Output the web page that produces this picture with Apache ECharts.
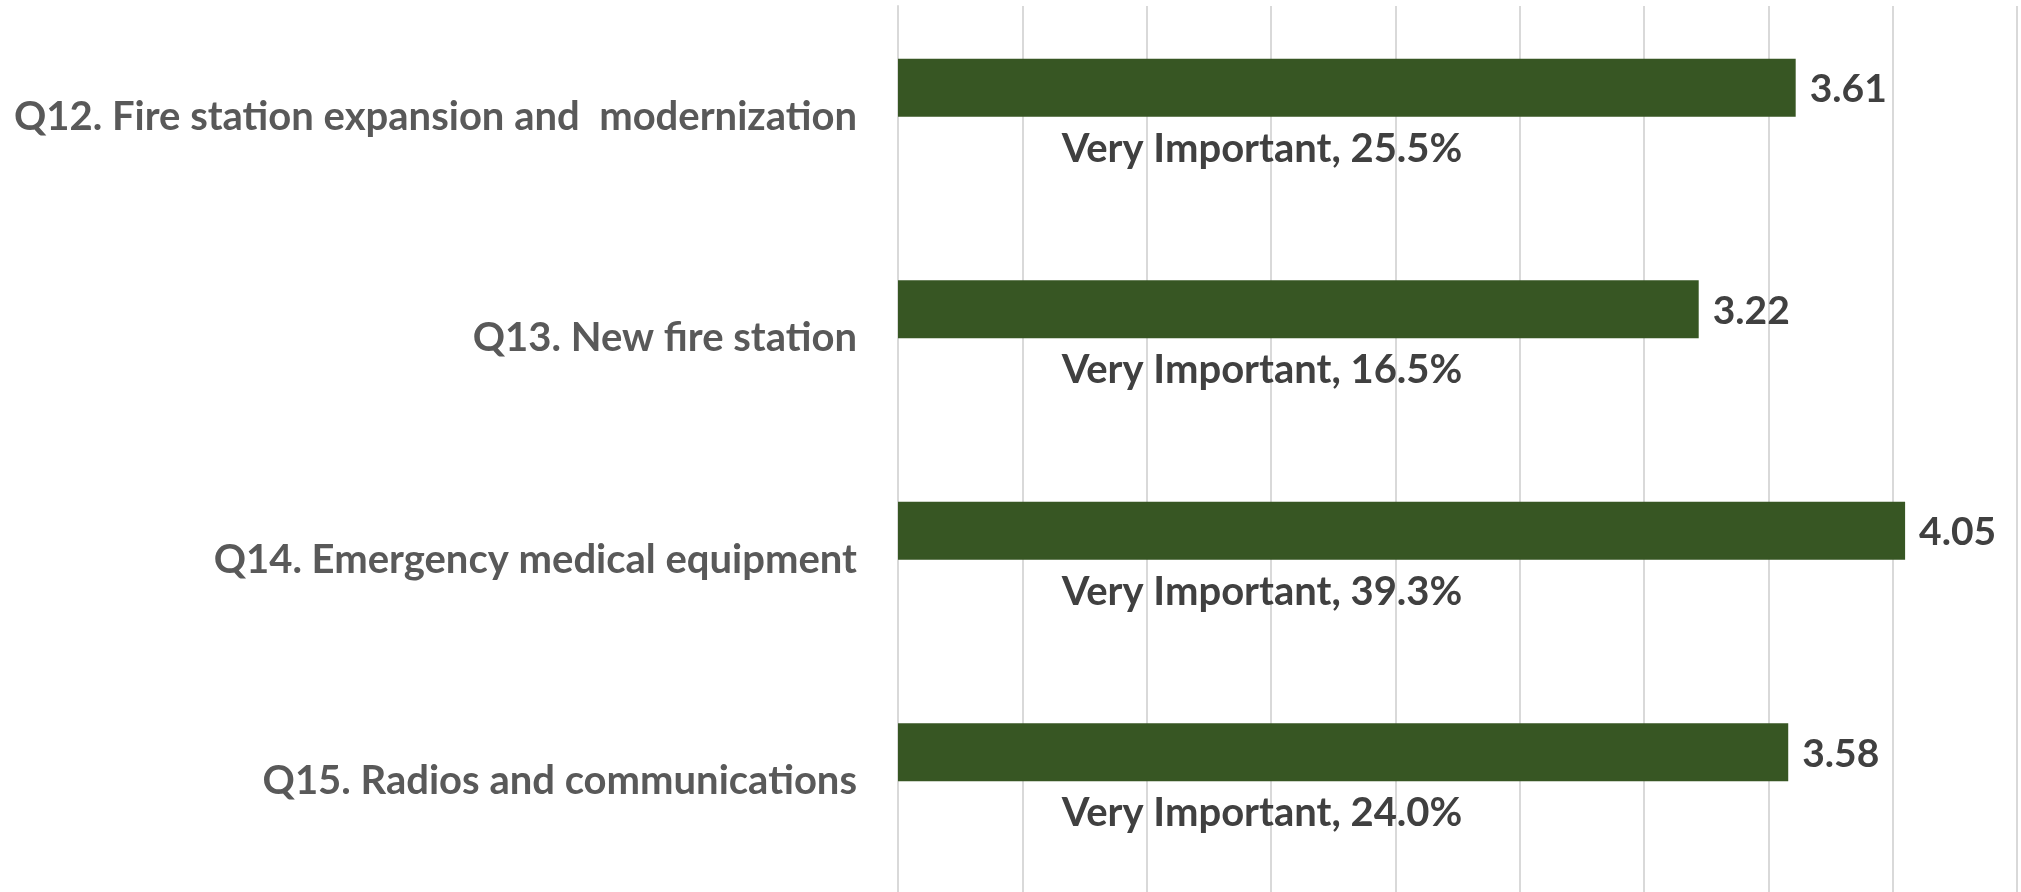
<!DOCTYPE html>
<html>
<head>
<meta charset="utf-8">
<script src="https://cdn.jsdelivr.net/npm/echarts@6/dist/echarts.min.js"></script>
<style>
    html, body { margin: 0; padding: 0; background: #fff; }
    #chart { width: 2021px; height: 892px; }
</style>
</head>
<body>
<div id="chart"></div>
<script>
// questions, top to bottom
var categories = [
    'Q12. Fire station expansion and  modernization',
    'Q13. New fire station',
    'Q14. Emergency medical equipment',
    'Q15. Radios and communications'
];
// mean importance rating
var means = [3.61, 3.22, 4.05, 3.58];
// share answering "Very Important" (%)
var veryImportant = [25.5, 16.5, 39.3, 24.0];

var myChart = echarts.init(document.getElementById('chart'));

var option = {
    animation: false,
    textStyle: { fontFamily: 'Lato' },
    grid: {
        left: 898,
        top: 6,
        width: 1119,
        height: 893
    },
    xAxis: {
        type: 'value',
        min: 0,
        max: 4.5,
        interval: 0.5,
        axisLabel: { show: false },
        axisLine: { show: false },
        axisTick: { show: false },
        splitLine: {
            lineStyle: { color: '#D9D9D9', width: 2 }
        }
    },
    yAxis: {
        type: 'category',
        inverse: true,
        data: categories,
        axisTick: { show: false },
        axisLine: {
            lineStyle: { color: '#D9D9D9', width: 2 }
        },
        axisLabel: {
            margin: 41,
            color: '#595959',
            fontWeight: 'bold',
            fontSize: 40,
            fontFamily: 'Lato',
            padding: [2, 0, 0, 0]
        }
    },
    series: [{
        name: 'Mean',
        type: 'bar',
        data: means,
        barWidth: 58,
        barGap: '0%',
        itemStyle: { color: '#375623' },
        label: {
            show: true,
            position: 'right',
            distance: 14,
            offset: [0, 2],
            color: '#404040',
            fontWeight: 'bold',
            fontSize: 39,
            fontFamily: 'Lato',
            formatter: function (p) {
                return p.value.toFixed(2);
            }
        }
    }, {
        name: 'Very Important',
        type: 'bar',
        data: means,
        barWidth: 58,
        barGap: '0%',
        itemStyle: { color: 'rgba(0,0,0,0)' },
        label: {
            show: true,
            position: 'insideLeft',
            distance: 0,
            offset: [364, 3],
            align: 'center',
            verticalAlign: 'middle',
            color: '#404040',
            fontWeight: 'bold',
            fontSize: 40,
            fontFamily: 'Lato',
            formatter: function (p) {
                return 'Very Important, ' + veryImportant[p.dataIndex].toFixed(1) + '%';
            }
        }
    }]
};

myChart.setOption(option);
</script>
</body>
</html>
